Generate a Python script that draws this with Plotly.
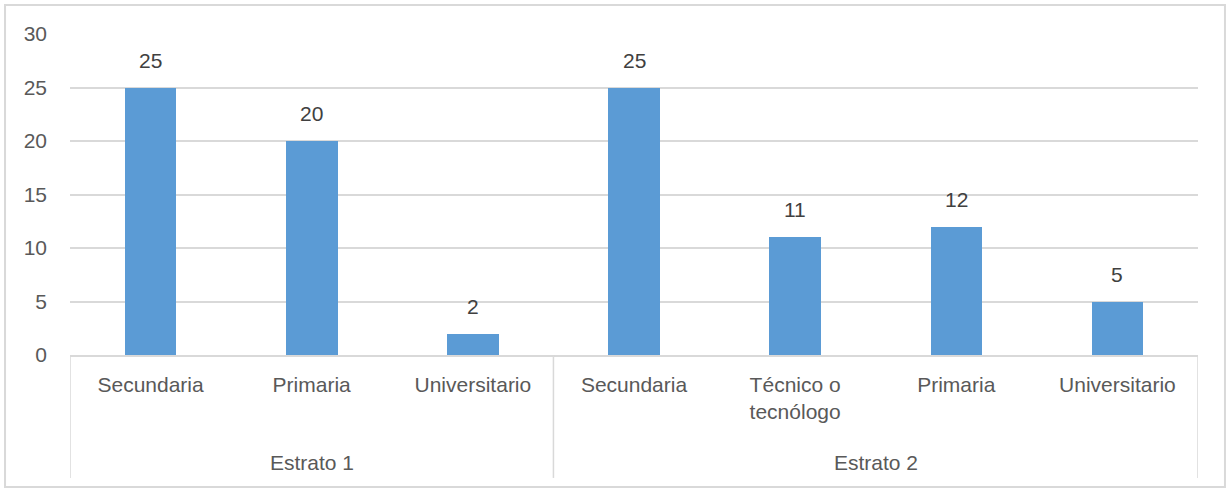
import plotly.graph_objects as go

# data
groups = ["Estrato 1", "Estrato 2"]
group_sizes = [3, 4]
levels = ["Secundaria", "Primaria", "Universitario",
          "Secundaria", "Técnico o<br>tecnólogo", "Primaria", "Universitario"]
counts = [25, 20, 2, 25, 11, 12, 5]
y_ticks = [0, 5, 10, 15, 20, 25, 30]

BAR = "#5b9bd5"
GRID = "#d9d9d9"
TXT = "#595959"
FONT = "Liberation Sans"

xs = list(range(len(levels)))

fig = go.Figure()
fig.add_trace(go.Bar(
    x=xs, y=counts, width=0.32,
    marker=dict(color=BAR, line=dict(width=0)),
    hoverinfo="skip", showlegend=False,
))

# value labels above bars
for x, v in zip(xs, counts):
    fig.add_annotation(x=x, y=v, text=str(v), showarrow=False,
                       yanchor="bottom", yshift=14,
                       font=dict(family=FONT, size=21, color="#404040"))

# group labels and dividers
shapes = []
start = 0
bottom = -0.383
for name, n in zip(groups, group_sizes):
    center = start + (n - 1) / 2
    fig.add_annotation(x=center, y=-0.336, yref="paper", text=name,
                       showarrow=False, yanchor="middle",
                       font=dict(family=FONT, size=21, color=TXT))
    shapes.append(dict(type="line", xref="x", yref="paper",
                       x0=start - 0.5, x1=start - 0.5, y0=0, y1=bottom,
                       line=dict(color=GRID, width=1.5)))
    start += n
shapes.append(dict(type="line", xref="x", yref="paper",
                   x0=start - 0.5, x1=start - 0.5, y0=0, y1=bottom,
                   line=dict(color=GRID, width=1.5)))
# chart border
shapes.append(dict(type="rect", xref="paper", yref="paper",
                   x0=-0.0576, x1=1.0239, y0=-0.4112, y1=1.0903,
                   line=dict(color=GRID, width=2), layer="below"))

fig.update_layout(
    width=1229, height=492,
    margin=dict(l=70, r=31, t=34, b=137),
    plot_bgcolor="white", paper_bgcolor="white",
    font=dict(family=FONT, size=21, color=TXT),
    shapes=shapes,
    bargap=0,
    xaxis=dict(
        range=[-0.5, len(levels) - 0.5],
        tickvals=xs, ticktext=levels,
        showgrid=False, zeroline=False,
        showline=True, linecolor=GRID, linewidth=1.5,
        ticks="", ticklabelstandoff=10,
        tickfont=dict(family=FONT, size=21, color=TXT),
        fixedrange=True,
    ),
    yaxis=dict(
        range=[0, 30], tickvals=y_ticks,
        showgrid=True, gridcolor=GRID, gridwidth=1.5,
        zeroline=False, showline=False,
        ticks="", ticklabelstandoff=22,
        tickfont=dict(family=FONT, size=21, color=TXT),
        fixedrange=True,
    ),
)

fig.write_html("out.html", config={"displayModeBar": False},
               post_script="document.body.style.margin = '0';")
